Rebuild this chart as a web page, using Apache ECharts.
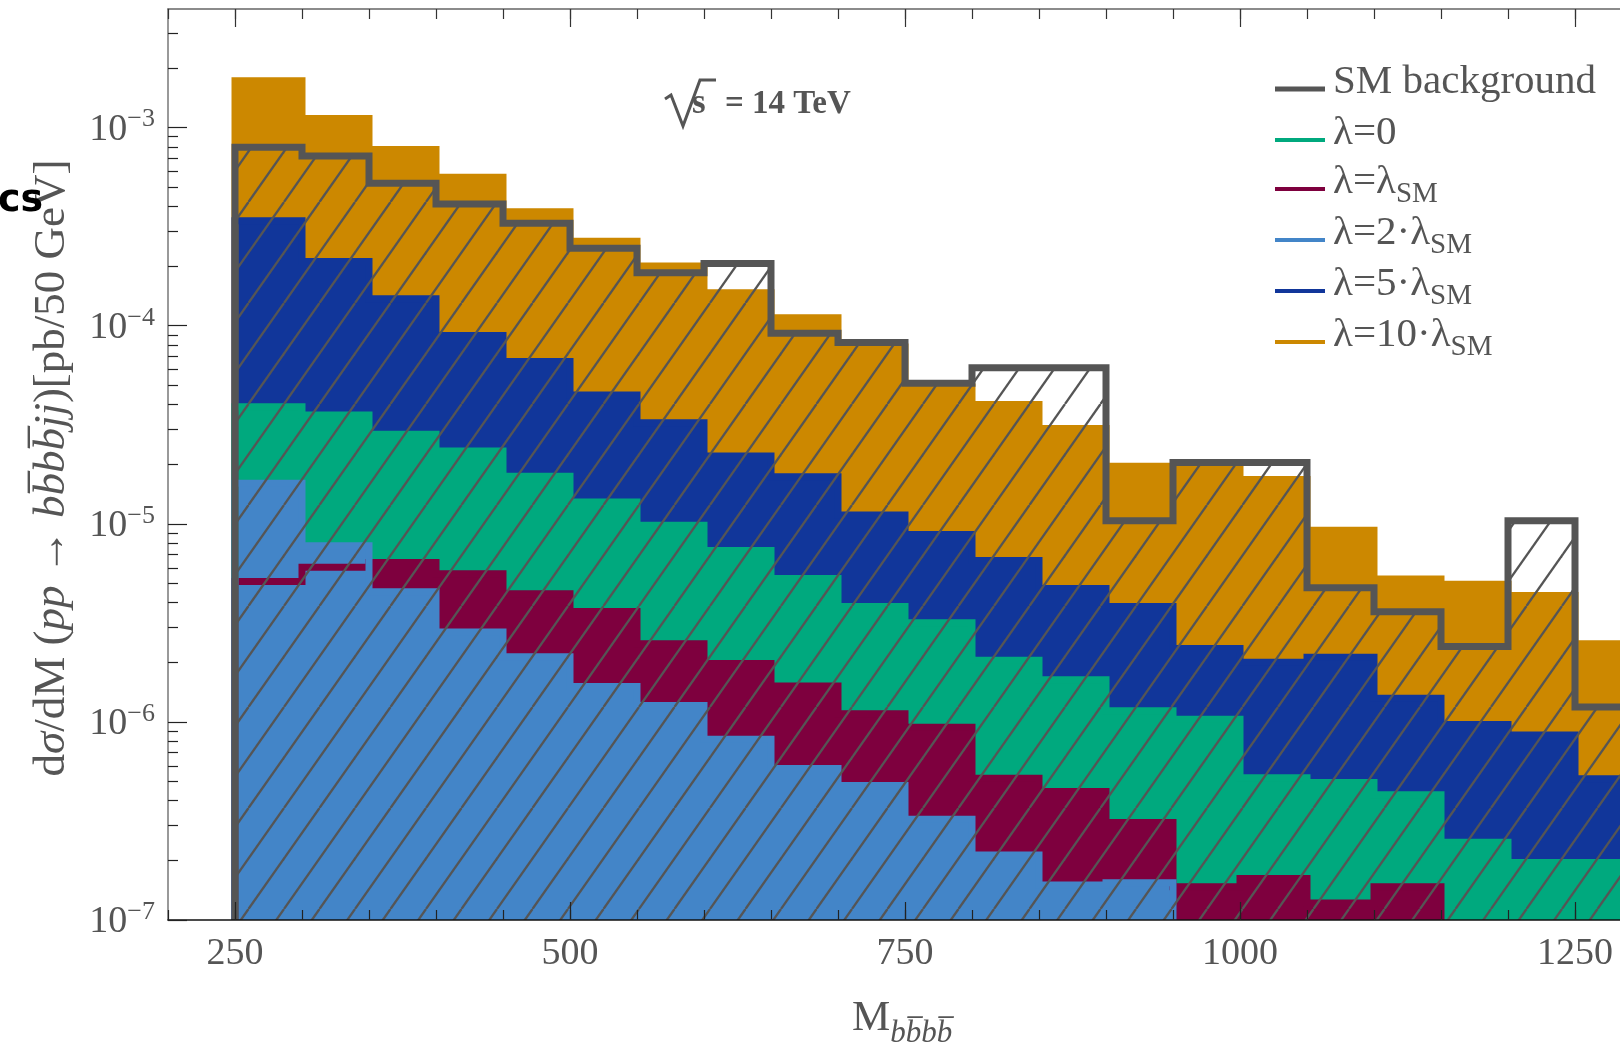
<!DOCTYPE html>
<html><head><meta charset="utf-8">
<script src="https://cdn.jsdelivr.net/npm/echarts@6/dist/echarts.min.js"></script>
<style>html,body{margin:0;padding:0;background:#fff}#c{width:1620px;height:1052px}</style>
</head><body><div id="c"></div>
<script>
// ---- data ----
const binStart = [250,300,350,400,450,500,550,600,650,700,750,800,850,900,950,1000,1050,1100,1150,1200,1250];
const binWidth = 50;
const smBackground = [7.96e-4,7.20e-4,5.24e-4,4.12e-4,3.29e-4,2.46e-4,1.85e-4,2.06e-4,9.17e-5,8.22e-5,5.13e-5,6.14e-5,6.14e-5,1.035e-5,2.04e-5,2.04e-5,4.76e-6,3.60e-6,2.40e-6,1.035e-5,1.19e-6];
const lambda10 = [1.725e-3,1.112e-3,7.76e-4,5.62e-4,3.76e-4,2.67e-4,2.00e-4,1.468e-4,1.097e-4,7.8e-5,4.9e-5,4.0e-5,3.03e-5,1.95e-5,1.97e-5,1.675e-5,9.29e-6,5.26e-6,4.96e-6,4.34e-6,2.48e-6];
const lambda5 = [3.39e-4,2.11e-4,1.368e-4,8.93e-5,6.60e-5,4.47e-5,3.24e-5,2.20e-5,1.73e-5,1.107e-5,8.84e-6,6.52e-6,4.72e-6,3.82e-6,2.35e-6,2.00e-6,2.12e-6,1.315e-6,9.7e-7,8.58e-7,5.16e-7];
const lambda0 = [3.90e-5,3.54e-5,2.83e-5,2.33e-5,1.74e-5,1.29e-5,9.82e-6,7.34e-6,5.30e-6,3.83e-6,3.17e-6,2.05e-6,1.63e-6,1.14e-6,1.03e-6,5.23e-7,4.95e-7,4.29e-7,2.47e-7,1.95e-7,1.95e-7];
const lambdaSM = [5.12e-6,6.03e-6,6.38e-6,5.60e-6,4.44e-6,3.61e-6,2.48e-6,1.97e-6,1.52e-6,1.10e-6,9.4e-7,5.19e-7,4.45e-7,3.11e-7,1.47e-7,1.62e-7,1.22e-7,1.47e-7,null,null,null];
const lambda2 = [1.60e-5,7.75e-6,4.54e-6,2.84e-6,2.13e-6,1.51e-6,1.21e-6,8.17e-7,5.81e-7,4.78e-7,3.23e-7,2.13e-7,1.50e-7,1.54e-7,null,null,null,null,null,null,null];

const xTickLabels = [250,500,750,1000,1250];
const yTickLabels = [1e-7,1e-6,1e-5,1e-4,1e-3];
const yMinorTicks = [2e-7,3e-7,4e-7,5e-7,6e-7,7e-7,8e-7,9e-7,2e-6,3e-6,4e-6,5e-6,6e-6,7e-6,8e-6,9e-6,2e-5,3e-5,4e-5,5e-5,6e-5,7e-5,8e-5,9e-5,2e-4,3e-4,4e-4,5e-4,6e-4,7e-4,8e-4,9e-4,2e-3,3e-3];

const legendMain = ['SM background','λ=0','λ=λ','λ=2·λ','λ=5·λ','λ=10·λ'];
const legendSub  = ['','','SM','SM','SM','SM'];

// ---- styling ----
const X_MIN = 200, X_MAX = 1300, Y_MIN = 1e-7, Y_MAX = 3.97e-3;
const C_SM = '#555555', C_L0 = '#00a97e', C_LSM = '#7e003e', C_L2 = '#4385c8', C_L5 = '#11369a', C_L10 = '#cc8800';
const TXT = '#555555';
const SERIF = 'Liberation Serif';

function stepPoints(vals){
  const pts = []; let prev = null;
  for (let i = 0; i < vals.length; i++){
    const v = vals[i], x0 = binStart[i], x1 = x0 + binWidth;
    if (v == null){ if (prev != null) pts.push([x0, Y_MIN]); prev = null; continue; }
    if (prev == null) pts.push([x0, Y_MIN]);
    pts.push([x0, v], [x1, v]);
    prev = v;
  }
  return pts;
}

// hatch pattern tile
const tile = document.createElement('canvas');
tile.width = 71; tile.height = 101;
(function(){
  const g = tile.getContext('2d');
  g.strokeStyle = '#555555'; g.lineWidth = 2.3;
  for (let k = -4; k <= 4; k++){
    const a = k * 35.5;
    g.beginPath(); g.moveTo(a, 101); g.lineTo(a + 71, 0); g.stroke();
  }
})();

const curves = [
  {d: lambda10, c: C_L10},
  {d: lambda5, c: C_L5},
  {d: lambda0, c: C_L0},
  {d: lambdaSM, c: C_LSM},
  {d: lambda2, c: C_L2}
];

const series = [];
curves.forEach((cv, i) => {
  series.push({type:'line', data: stepPoints(cv.d), symbol:'none', silent:true,
    lineStyle:{width:0, opacity:0}, areaStyle:{color:cv.c, opacity:1, origin:'start'}, z: 2 + i});
});
curves.forEach((cv, i) => {
  series.push({type:'line', data: stepPoints(cv.d), symbol:'none', silent:true,
    lineStyle:{color:cv.c, width:7, join:'miter', cap:'butt'}, z: 8 + i});
});
series.push({type:'line', data: stepPoints(smBackground), symbol:'none', silent:true,
  lineStyle:{width:0, opacity:0}, areaStyle:{color:{image:tile, repeat:'repeat'}, opacity:1, origin:'start'}, z: 14});
series.push({type:'line', data: stepPoints(smBackground), symbol:'none', silent:true,
  lineStyle:{color:C_SM, width:7, join:'miter', cap:'butt'}, z: 15});

function xAx(pos, opts){
  return Object.assign({type:'value', position:pos, min:X_MIN, max:X_MAX,
    splitLine:{show:false}, z:30}, opts);
}
function yAx(opts){
  return Object.assign({type:'log', logBase:10, position:'left', min:Y_MIN, max:Y_MAX,
    splitLine:{show:false}, z:30}, opts);
}

// legend graphics
const legendColors = [C_SM, C_L0, C_LSM, C_L2, C_L5, C_L10];
const legendY = [89, 140, 189, 240, 291, 342];
const graphics = [];
legendMain.forEach((t, i) => {
  graphics.push({type:'line', shape:{x1:1275, y1:legendY[i], x2:1325, y2:legendY[i]},
    style:{stroke:legendColors[i], lineWidth: i === 0 ? 5 : 4}, z:50});
  graphics.push({type:'text', x:1333, y:legendY[i] - 4,
    style:{text: '{t|' + t + '}' + (legendSub[i] ? '{s|' + legendSub[i] + '}' : ''),
      verticalAlign:'middle', align:'left',
      rich:{t:{fontFamily:SERIF, fontSize:41, fill:TXT, verticalAlign:'top', lineHeight:47},
            s:{fontFamily:SERIF, fontSize:29, fill:TXT, verticalAlign:'bottom', lineHeight:47}}}, z:50});
});

// sqrt(s) annotation
graphics.push({type:'polyline', shape:{points:[[665,99],[671,95],[683,126],[700,80],[716,80]]},
  style:{stroke:TXT, lineWidth:3, fill:null, lineJoin:'miter'}, z:50});
graphics.push({type:'text', x:692, y:104, style:{text:'s', fontFamily:SERIF, fontWeight:'bold', fontSize:35, fill:TXT, verticalAlign:'middle'}, z:50});
graphics.push({type:'text', x:725, y:104, style:{text:'= 14 TeV', fontFamily:SERIF, fontWeight:'bold', fontSize:33, fill:TXT, verticalAlign:'middle'}, z:50});

// axis titles
graphics.push({type:'text', x:852, y:1023,
  style:{text:'{m|M}{s|bb\u0305bb\u0305}', verticalAlign:'middle', align:'left',
    rich:{m:{fontFamily:SERIF, fontSize:43, fill:TXT, verticalAlign:'top', lineHeight:52},
          s:{fontFamily:SERIF, fontSize:31, fontStyle:'italic', fill:TXT, verticalAlign:'bottom', lineHeight:52}}}, z:50});
graphics.push({type:'text', x:52, y:468, rotation:Math.PI/2,
  style:{text:'{r|d}{i|σ}{r|/dM (}{i|pp}{r| → }{i|bb\u0305bb\u0305jj}{r|)[pb/50 GeV]}', align:'center', verticalAlign:'middle',
    rich:{r:{fontFamily:SERIF, fontSize:45, fill:TXT}, i:{fontFamily:SERIF, fontSize:45, fontStyle:'italic', fill:TXT}}}, z:50});
// stray cropped text at the left edge
graphics.push({type:'text', x:-2, y:201, style:{text:'cs', fontFamily:'DejaVu Sans', fontWeight:'bold', fontSize:38, fill:'#000', verticalAlign:'middle'}, z:50});

const option = {
  animation:false,
  backgroundColor:'#fff',
  grid:{left:168, top:9, right:-22, bottom:132, containLabel:false, outerBoundsMode:'none'},
  xAxis:[
    xAx('bottom', {interval:50,
      axisLine:{show:true, onZero:false, lineStyle:{color:'#111', width:1.5}},
      axisTick:{show:true, inside:true, length:10, lineStyle:{color:'#222', width:1.2}},
      axisLabel:{show:true, customValues:xTickLabels, formatter:(v) => String(v), fontFamily:SERIF, fontSize:38, color:TXT, margin:15}}),
    xAx('bottom', {axisLine:{show:false},
      axisTick:{show:true, customValues:xTickLabels, inside:true, length:18, lineStyle:{color:'#222', width:1.2}},
      axisLabel:{show:false}}),
    xAx('top', {interval:50,
      axisLine:{show:true, onZero:false, lineStyle:{color:'#666', width:1.5}},
      axisTick:{show:true, inside:true, length:10, lineStyle:{color:'#333', width:1.2}},
      axisLabel:{show:false}}),
    xAx('top', {axisLine:{show:false},
      axisTick:{show:true, customValues:xTickLabels, inside:true, length:18, lineStyle:{color:'#333', width:1.2}},
      axisLabel:{show:false}})
  ],
  yAxis:[
    yAx({axisLine:{show:true, onZero:false, lineStyle:{color:'#777', width:1.5}},
      axisTick:{show:true, customValues:yTickLabels, inside:true, length:19, lineStyle:{color:'#222', width:1.2}},
      axisLabel:{show:true, customValues:yTickLabels, margin:13,
        formatter:(v) => '{b|10}{s|\u2212' + Math.round(-Math.log10(v)) + '}',
        rich:{b:{fontFamily:SERIF, fontSize:38, color:TXT, verticalAlign:'bottom', lineHeight:42},
              s:{fontFamily:SERIF, fontSize:26, color:TXT, verticalAlign:'top', lineHeight:42}}}}),
    yAx({axisLine:{show:false},
      axisTick:{show:true, customValues:yMinorTicks, inside:true, length:10, lineStyle:{color:'#222', width:1.2}},
      axisLabel:{show:false}})
  ],
  series: series,
  graphic: graphics
};
const chart = echarts.init(document.getElementById('c'), null, {renderer:'canvas'});
chart.setOption(option);
</script></body></html>
